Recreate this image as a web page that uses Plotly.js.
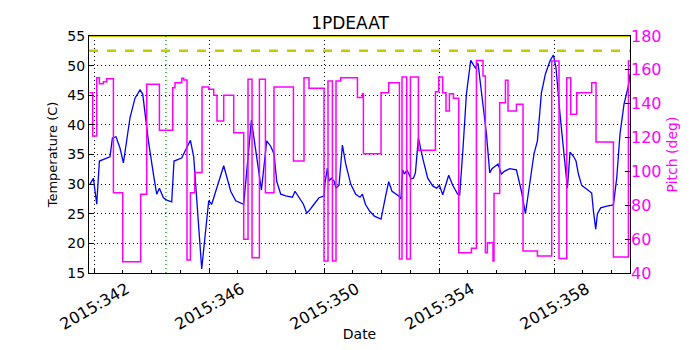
<!DOCTYPE html>
<html>
<head>
<meta charset="utf-8">
<script src="https://cdn.plot.ly/plotly-3.0.1.min.js"></script>
<style>
  body { margin: 0; background: #fff; }
  #chart { width: 700px; height: 350px; }
</style>
</head>
<body>
<div id="chart"></div>
<script>
// Temperature (blue), day of year 2015
let tempDays = [341.861, 341.979, 342.094, 342.188, 342.557, 342.640, 342.765, 342.904, 343.023, 343.252,
  343.426, 343.600, 343.694, 343.892, 344.066, 344.181, 344.275, 344.414, 344.529, 344.703,
  344.783, 345.050, 345.353, 345.468, 345.746, 345.990, 346.094, 346.511, 346.755, 346.929,
  347.207, 347.475, 347.823, 348.007, 348.146, 348.261, 348.355, 348.494, 348.668, 348.901,
  348.991, 349.130, 349.284, 349.398, 349.478, 349.652, 349.826, 350.000, 350.035, 350.118,
  350.174, 350.257, 350.348, 350.417, 350.522, 350.640, 350.755, 350.929, 351.103, 351.252,
  351.336, 351.440, 351.579, 351.753, 351.983, 352.157, 352.250, 352.365, 352.504, 352.598,
  352.678, 352.737, 352.797, 352.887, 353.026, 353.110, 353.179, 353.283, 353.433, 353.607,
  353.781, 353.920, 354.014, 354.129, 354.337, 354.477, 354.651, 354.720, 354.835, 354.953,
  355.103, 355.266, 355.357, 355.475, 355.649, 355.764, 355.843, 356.052, 356.171, 356.285,
  356.459, 356.692, 356.866, 357.005, 357.155, 357.304, 357.423, 357.562, 357.701, 357.861,
  357.979, 358.070, 358.209, 358.348, 358.466, 358.557, 358.675, 358.765, 358.849, 358.963,
  359.113, 359.311, 359.370, 359.450, 359.510, 359.624, 359.833, 360.066, 360.181, 360.296,
  360.435, 360.588, 360.644];
let tempValues = [30.0, 31.0, 26.6, 33.9, 34.6, 37.8, 38.0, 36.1, 33.6, 41.2,
  44.5, 45.9, 45.2, 37.3, 31.7, 28.3, 29.3, 27.7, 27.3, 27.0,
  33.9, 34.4, 37.4, 34.6, 15.7, 27.2, 26.6, 33.1, 28.8, 27.2,
  26.6, 40.8, 29.0, 37.3, 36.4, 35.1, 30.5, 28.3, 28.0, 27.8,
  28.8, 27.7, 26.6, 25.1, 25.5, 26.6, 27.7, 28.0, 30.2, 32.7,
  30.5, 31.0, 30.5, 29.3, 29.8, 36.6, 33.4, 30.0, 28.3, 27.8,
  28.3, 26.6, 25.5, 24.6, 24.1, 28.3, 30.4, 28.8, 28.3, 28.0,
  27.5, 32.4, 31.7, 32.4, 30.9, 31.0, 31.9, 37.8, 34.4, 31.0,
  29.7, 29.3, 29.8, 28.2, 31.5, 29.8, 28.3, 28.2, 36.1, 45.2,
  50.9, 49.6, 50.4, 45.7, 38.5, 31.9, 32.6, 33.4, 31.7, 32.2,
  32.6, 32.4, 28.8, 25.0, 30.5, 35.1, 37.3, 45.4, 48.6, 50.8,
  51.8, 49.6, 41.8, 34.4, 29.3, 35.4, 34.7, 33.9, 31.7, 29.8,
  29.2, 28.5, 25.5, 22.4, 25.0, 26.0, 26.3, 26.5, 31.0, 38.5,
  43.5, 46.6, 48.6];

// Pitch (magenta), step changes
let pitchDays = [341.850, 341.955, 342.094, 342.188, 342.327, 342.442, 342.675, 342.998, 343.624, 343.833,
  344.275, 344.737, 344.817, 345.050, 345.120, 345.235, 345.353, 345.503, 345.757, 345.990,
  346.164, 346.278, 346.511, 346.859, 347.207, 347.357, 347.496, 347.753, 347.962, 348.261,
  348.936, 349.304, 349.478, 350.000, 350.139, 350.292, 350.417, 350.581, 351.162, 351.336,
  351.371, 351.983, 352.250, 352.623, 352.713, 352.877, 353.005, 353.283, 353.875, 353.990,
  354.129, 354.244, 354.362, 354.501, 354.685, 355.127, 355.301, 355.530, 355.614, 355.683,
  355.878, 355.913, 356.111, 356.310, 356.400, 356.692, 356.922, 357.423, 357.920, 358.174,
  358.442, 358.581, 358.790, 359.311, 359.461, 360.066, 360.588, 360.643];
let pitchValues = [146.5, 120.9, 155.4, 151.8, 153.0, 154.8, 87.4, 46.7, 86.5, 151.5,
  124.3, 149.5, 152.4, 155.0, 154.0, 47.7, 87.4, 99.3, 149.9, 148.5,
  145.0, 129.8, 145.0, 122.9, 59.9, 154.4, 49.0, 154.4, 87.4, 149.9,
  106.2, 155.4, 149.1, 47.1, 153.4, 47.1, 153.4, 155.4, 143.6, 145.9,
  110.5, 146.5, 152.4, 48.3, 155.8, 48.3, 155.8, 112.5, 147.1, 155.8,
  146.5, 135.7, 145.9, 143.2, 52.0, 54.6, 165.6, 156.4, 52.0, 57.9,
  47.1, 86.9, 140.6, 153.8, 135.7, 139.7, 53.0, 50.0, 165.2, 48.5,
  155.4, 133.8, 146.5, 152.4, 117.4, 49.5, 165.2, 165.2];

let tickDays = [342, 346, 350, 354, 358];
let tickLabels = ["2015:342", "2015:346", "2015:350", "2015:354", "2015:358"];

let planningLimit = 52.5;
let upperLimit = 55;
let markerDay = 344.5;

let traces = [{
  x: pitchDays,
  y: pitchValues,
  type: "scatter",
  mode: "lines",
  line: { color: "#ff00ff", width: 1.5, shape: "hv" },
  yaxis: "y2",
  hoverinfo: "skip"
}, {
  x: tempDays,
  y: tempValues,
  type: "scatter",
  mode: "lines",
  line: { color: "#0000ff", width: 1.3 }
}];

// matplotlib-style centred, rotated date labels
let dateLabels = tickDays.map((d, i) => ({
  x: d, xref: "x",
  y: 0, yref: "paper",
  yshift: -33,
  text: tickLabels[i],
  textangle: -30,
  showarrow: false,
  xanchor: "center", yanchor: "middle",
  font: { size: 16, color: "#000" }
}));

let layout = {
  width: 700,
  height: 350,
  showlegend: false,
  paper_bgcolor: "#ffffff",
  plot_bgcolor: "#ffffff",
  font: { family: "DejaVu Sans", size: 13, color: "#000" },
  margin: { l: 89, r: 70, t: 36, b: 77 },
  title: { text: "1PDEAAT", font: { size: 17 }, x: 0.5, xanchor: "center", y: 0.935, yanchor: "middle", yref: "container" },
  xaxis: {
    range: [341.826, 360.643],
    tickvals: tickDays,
    showticklabels: false,
    ticks: "inside",
    ticklen: 5,
    tickcolor: "#000",
    minor: { dtick: 1, tick0: 342, ticks: "inside", ticklen: 3, tickcolor: "#000", showgrid: false },
    showgrid: true,
    gridcolor: "#000",
    griddash: "1px,3px",
    gridwidth: 1,
    showline: true,
    linecolor: "#000",
    linewidth: 1,
    mirror: true,
    zeroline: false,
    title: { text: "Date", font: { size: 14 }, standoff: 56 }
  },
  yaxis: {
    range: [15, 55],
    dtick: 5,
    ticks: "inside",
    ticklen: 5,
    tickcolor: "#000",
    tickfont: { size: 14 },
    showgrid: true,
    gridcolor: "#000",
    griddash: "1px,3px",
    gridwidth: 1,
    showline: true,
    linecolor: "#000",
    linewidth: 1,
    mirror: true,
    zeroline: false,
    title: { text: "Temperature (C)", font: { size: 13 }, standoff: 6 }
  },
  yaxis2: {
    overlaying: "y",
    side: "right",
    range: [40, 180],
    dtick: 20,
    ticks: "inside",
    ticklen: 5,
    tickcolor: "#000",
    tickfont: { color: "#ff00ff", size: 16 },
    showgrid: false,
    zeroline: false,
    title: { text: "Pitch (deg)", font: { color: "#ff00ff", size: 14 }, standoff: 6 }
  },
  annotations: dateLabels,
  shapes: [{
    type: "line", xref: "paper", x0: 0, x1: 1, yref: "y", y0: planningLimit, y1: planningLimit,
    line: { color: "#c8c800", width: 2.5, dash: "dash" }
  }, {
    type: "line", xref: "paper", x0: 0, x1: 1, yref: "y", y0: upperLimit, y1: upperLimit,
    line: { color: "#c8c800", width: 2 }
  }, {
    type: "line", xref: "x", x0: markerDay, x1: markerDay, yref: "paper", y0: 0, y1: 1,
    line: { color: "#00a000", width: 1.3, dash: "1px,3px" }
  }]
};

Plotly.newPlot("chart", traces, layout, { displayModeBar: false, staticPlot: true });
</script>
</body>
</html>
